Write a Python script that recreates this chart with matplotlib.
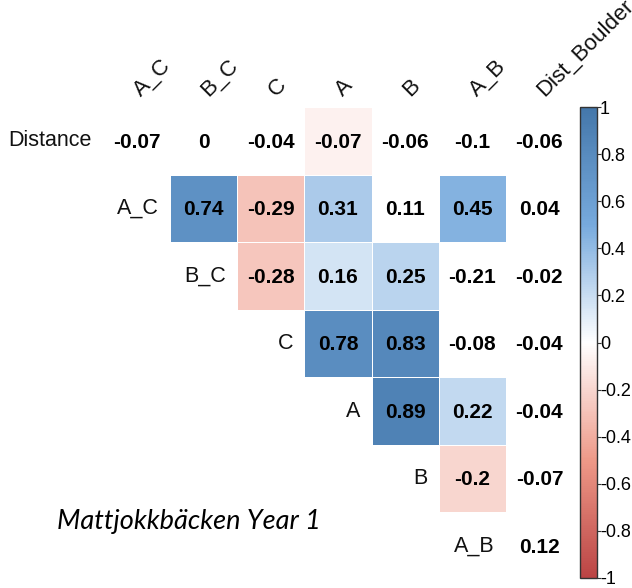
import numpy as np
import matplotlib.pyplot as plt
from matplotlib.colors import LinearSegmentedColormap

row_names = ["Distance", "A_C", "B_C", "C", "A", "B", "A_B"]
col_names = ["A_C", "B_C", "C", "A", "B", "A_B", "Dist_Boulder"]

# correlation values per row (upper triangle, starting at the row's first column)
r_distance = [-0.07, 0, -0.04, -0.07, -0.06, -0.1, -0.06]
r_ac = [0.74, -0.29, 0.31, 0.11, 0.45, 0.04]
r_bc = [-0.28, 0.16, 0.25, -0.21, -0.02]
r_c = [0.78, 0.83, -0.08, -0.04]
r_a = [0.89, 0.22, -0.04]
r_b = [-0.2, -0.07]
r_ab = [0.12]
rows = [r_distance, r_ac, r_bc, r_c, r_a, r_b, r_ab]

# cells that get a colour fill (the rest are blanked)
sig_distance = [0, 0, 0, 1, 0, 0, 0]
sig_ac = [1, 1, 1, 0, 1, 0]
sig_bc = [1, 1, 1, 0, 0]
sig_c = [1, 1, 0, 0]
sig_a = [1, 1, 0]
sig_b = [1, 0]
sig_ab = [0]
sigs = [sig_distance, sig_ac, sig_bc, sig_c, sig_a, sig_b, sig_ab]

caption = "Mattjokkbäcken Year 1"

n = len(col_names)
vals = np.full((n, n), np.nan)
mask = np.ones((n, n), dtype=bool)
for i, (r, s) in enumerate(zip(rows, sigs)):
    start = n - len(r)
    vals[i, start:] = r
    mask[i, start:] = np.array(s) == 0

cmap = LinearSegmentedColormap.from_list(
    "corr", ["#BB4444", "#EE9988", "#FFFFFF", "#77AADD", "#4477AA"])

W, H = 632, 588
fig = plt.figure(figsize=(W / 100, H / 100), dpi=100)
ax = fig.add_axes([103 / W, 8 / H, 470 / W, 473 / H])

mesh = ax.pcolormesh(np.ma.masked_array(vals, mask), cmap=cmap, vmin=-1, vmax=1,
                     edgecolors="white", linewidth=0.4)
ax.set_xlim(0, n)
ax.set_ylim(n, 0)
ax.axis("off")

lab_font = "Liberation Sans"
for i in range(n):
    for j in range(n):
        if not np.isnan(vals[i, j]):
            v = vals[i, j]
            txt = "0" if v == 0 else ("%.2f" % v).rstrip("0")
            ax.text(j + 0.5, i + 0.52, txt, ha="center", va="center",
                    fontsize=15, fontweight="bold", family=lab_font)
    ax.text(i - 0.17, i + 0.5, row_names[i], ha="right", va="center",
            fontsize=15.5, family=lab_font, color="#111111")

for j, name in enumerate(col_names):
    ax.text(j + 0.62, -0.1, name, ha="left", va="bottom", rotation=45,
            rotation_mode="anchor", fontsize=16, family=lab_font,
            color="#111111", clip_on=False)

cax = fig.add_axes([580 / W, 10 / H, 17 / W, 471 / H])
cb = fig.colorbar(mesh, cax=cax, ticks=np.round(np.arange(-1, 1.01, 0.2), 1))
cb.ax.set_yticklabels(["-1", "-0.8", "-0.6", "-0.4", "-0.2", "0", "0.2", "0.4", "0.6", "0.8", "1"])
cb.outline.set_edgecolor("#333333")
cb.outline.set_linewidth(1.0)
cb.ax.tick_params(length=3, width=0.8, color="#333333", labelsize=13, pad=-1)
for t in cb.ax.get_yticklabels():
    t.set_family(lab_font)

fig.text(57 / W, (H - 522) / H, caption, fontsize=19.5, style="italic",
         family="Lato", va="center", ha="left")

fig.savefig("out.png", dpi=100)
